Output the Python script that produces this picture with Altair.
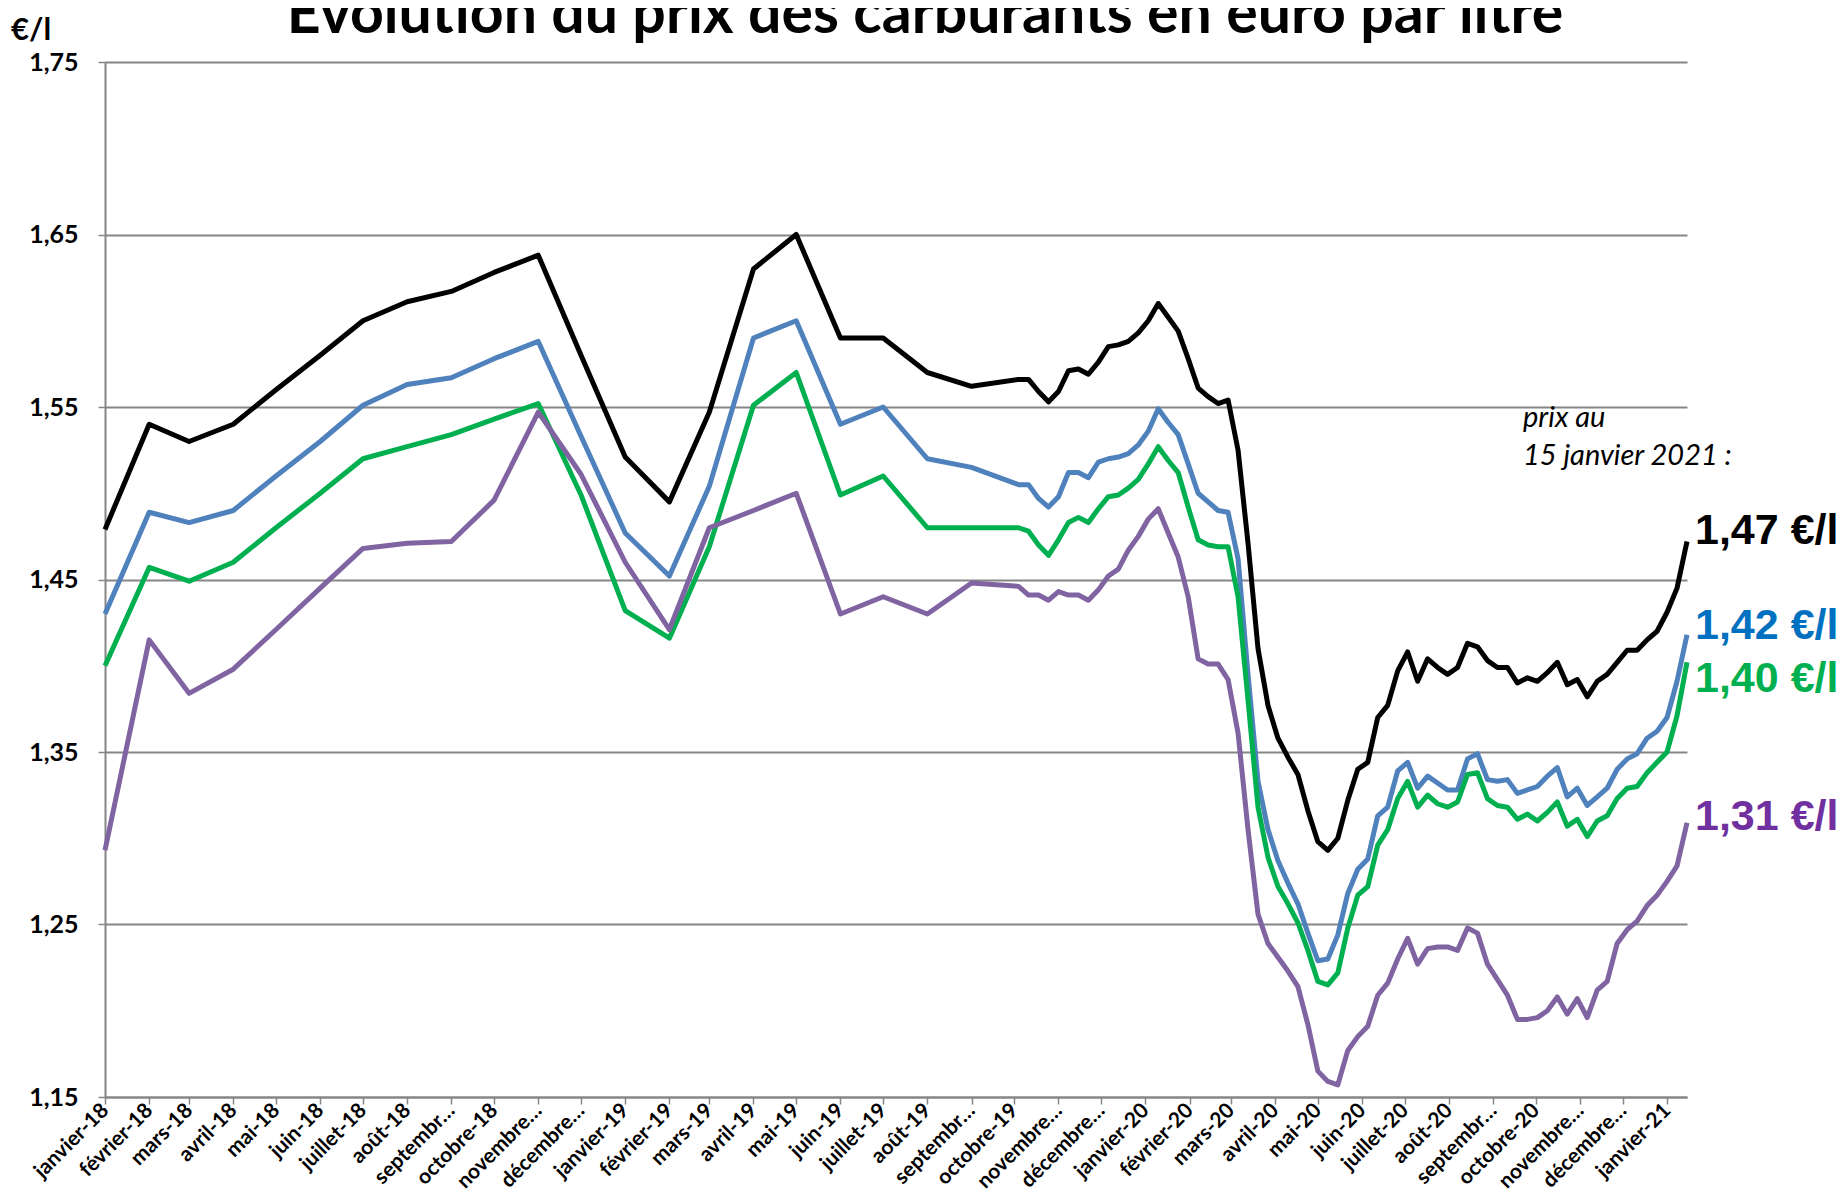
import json
import altair as alt
import pandas as pd

# ---------------- data ----------------
monthly_dates = pd.date_range("2018-01-01", "2019-09-01", freq="MS")
weekly_dates = pd.date_range("2019-10-04", "2021-01-15", freq="7D")
dates = [d.strftime("%Y-%m-%dT00:00:00") for d in list(monthly_dates) + list(weekly_dates)]

series_names = ["SP98", "SP95", "SP95-E10", "Gazole"]
line_colors = ["#000000", "#4F81BD", "#00B050", "#8064A2"]
label_colors = ["#000000", "#0070C0", "#00B050", "#7030A0"]

sp98 = [1.479, 1.540, 1.530, 1.540, 1.560, 1.580, 1.600, 1.611, 1.617, 1.628, 1.638, 1.580,
        1.521, 1.495, 1.547, 1.630, 1.650, 1.590, 1.590, 1.570, 1.562,
        1.566, 1.566, 1.559, 1.553, 1.559, 1.571, 1.572, 1.569, 1.576, 1.585,
        1.586, 1.588, 1.593, 1.600, 1.610, 1.602, 1.594, 1.578, 1.561, 1.556,
        1.552, 1.554, 1.525, 1.471, 1.410, 1.377, 1.358, 1.347, 1.337, 1.316,
        1.298, 1.293, 1.300, 1.322, 1.340, 1.344, 1.370, 1.377, 1.397, 1.408,
        1.391, 1.404, 1.399, 1.395, 1.399, 1.413, 1.411, 1.403, 1.399, 1.399,
        1.390, 1.393, 1.391, 1.396, 1.402, 1.389, 1.392, 1.382, 1.391, 1.395,
        1.402, 1.409, 1.409, 1.415, 1.420, 1.431, 1.445, 1.472]

sp95 = [1.430, 1.489, 1.483, 1.490, 1.510, 1.530, 1.551, 1.563, 1.567, 1.578, 1.588, 1.533,
        1.477, 1.452, 1.504, 1.590, 1.600, 1.540, 1.550, 1.520, 1.515,
        1.505, 1.505, 1.497, 1.492, 1.498, 1.512, 1.512, 1.509, 1.518, 1.520,
        1.521, 1.523, 1.528, 1.536, 1.549, 1.541, 1.534, 1.517, 1.500, 1.495,
        1.490, 1.489, 1.462, 1.395, 1.333, 1.305, 1.287, 1.274, 1.262, 1.245,
        1.229, 1.230, 1.244, 1.268, 1.282, 1.288, 1.313, 1.318, 1.339, 1.344,
        1.329, 1.336, 1.332, 1.328, 1.328, 1.346, 1.349, 1.334, 1.333, 1.334,
        1.326, 1.328, 1.330, 1.336, 1.341, 1.324, 1.329, 1.319, 1.324, 1.329,
        1.340, 1.346, 1.349, 1.358, 1.362, 1.370, 1.391, 1.418]

e10 = [1.400, 1.457, 1.449, 1.460, 1.480, 1.500, 1.520, 1.527, 1.534, 1.543, 1.552, 1.499,
       1.432, 1.416, 1.469, 1.551, 1.570, 1.499, 1.510, 1.480, 1.480,
       1.480, 1.478, 1.470, 1.464, 1.473, 1.483, 1.486, 1.483, 1.491, 1.498,
       1.499, 1.503, 1.508, 1.517, 1.527, 1.519, 1.512, 1.492, 1.473, 1.470,
       1.469, 1.469, 1.440, 1.380, 1.318, 1.289, 1.272, 1.262, 1.251, 1.235,
       1.217, 1.215, 1.222, 1.248, 1.267, 1.272, 1.296, 1.305, 1.323, 1.333,
       1.318, 1.325, 1.320, 1.318, 1.321, 1.337, 1.338, 1.323, 1.319, 1.318,
       1.311, 1.314, 1.310, 1.315, 1.321, 1.307, 1.311, 1.301, 1.310, 1.313,
       1.323, 1.329, 1.330, 1.338, 1.344, 1.350, 1.371, 1.402]

gazole = [1.293, 1.415, 1.384, 1.398, 1.421, 1.445, 1.468, 1.471, 1.472, 1.496, 1.547, 1.511,
          1.460, 1.421, 1.480, 1.490, 1.500, 1.430, 1.440, 1.430, 1.448,
          1.446, 1.441, 1.441, 1.438, 1.443, 1.441, 1.441, 1.438, 1.444, 1.452,
          1.456, 1.467, 1.475, 1.485, 1.491, 1.477, 1.463, 1.440, 1.404, 1.401,
          1.401, 1.392, 1.361, 1.305, 1.256, 1.239, 1.231, 1.223, 1.214, 1.192,
          1.165, 1.159, 1.157, 1.177, 1.185, 1.191, 1.209, 1.216, 1.230, 1.242,
          1.227, 1.236, 1.237, 1.237, 1.235, 1.248, 1.245, 1.227, 1.218, 1.209,
          1.195, 1.195, 1.196, 1.200, 1.208, 1.198, 1.207, 1.196, 1.212, 1.217,
          1.239, 1.247, 1.252, 1.261, 1.267, 1.275, 1.284, 1.309]

tick_labels = [
    "janvier-18", "février-18", "mars-18", "avril-18", "mai-18", "juin-18", "juillet-18",
    "août-18", "septembr…", "octobre-18", "novembre…", "décembre…",
    "janvier-19", "février-19", "mars-19", "avril-19", "mai-19", "juin-19", "juillet-19",
    "août-19", "septembr…", "octobre-19", "novembre…", "décembre…",
    "janvier-20", "février-20", "mars-20", "avril-20", "mai-20", "juin-20", "juillet-20",
    "août-20", "septembr…", "octobre-20", "novembre…", "décembre…",
    "janvier-21",
]
y_ticks = [1.15, 1.25, 1.35, 1.45, 1.55, 1.65, 1.75]

title_text = "Évolution du prix des carburants en euro par litre"
unit_text = "€/l"
note_lines = ["prix au", "15 janvier 2021 :"]

# ---------------- table ----------------
values_by_series = [sp98, sp95, e10, gazole]
rows = []
for name, vals in zip(series_names, values_by_series):
    for d, v in zip(dates, vals):
        rows.append({"date": d, "serie": name, "prix": v})
df = pd.DataFrame(rows)

W, H = 1582, 1035
GRID = "#868686"

tick_dates = [alt.DateTime(year=2018 + i // 12, month=i % 12 + 1, date=1) for i in range(len(tick_labels))]
label_expr = json.dumps(tick_labels, ensure_ascii=False) + "[(year(datum.value)-2018)*12 + month(datum.value)]"

x_enc = alt.X(
    "date:T",
    scale=alt.Scale(domain=[alt.DateTime(year=2018, month=1, date=1),
                            alt.DateTime(year=2021, month=1, date=15)]),
    axis=alt.Axis(
        values=tick_dates, labelExpr=label_expr, labelAngle=-45, labelAlign="right",
        labelBaseline="middle", labelOverlap=False, labelFlush=False, labelBound=False,
        labelFont="Lato", labelFontWeight="bold", labelFontSize=21, labelColor="#000000",
        labelPadding=3, tickSize=7, tickWidth=1.5, tickColor=GRID,
        domainColor=GRID, domainWidth=2, grid=False, title=None,
    ),
)
y_enc = alt.Y(
    "prix:Q",
    scale=alt.Scale(domain=[1.15, 1.75], zero=False, nice=False),
    axis=alt.Axis(
        values=y_ticks, labelExpr="replace(format(datum.value, '.2f'), '.', ',')",
        labelFont="Lato", labelFontWeight="bold", labelFontSize=25, labelColor="#000000",
        labelPadding=20, tickSize=7, tickWidth=1.5, tickColor=GRID,
        domainColor=GRID, domainWidth=2, grid=True, gridColor=GRID, gridWidth=2,
        title=None,
    ),
)

lines = alt.Chart(df).mark_line(strokeWidth=5, strokeJoin="round").encode(
    x=x_enc,
    y=y_enc,
    color=alt.Color("serie:N", scale=alt.Scale(domain=series_names, range=line_colors), legend=None),
    order=alt.Order("date:T"),
)

label_dy = [-11, -9, 17, -6]
label_layers = []
for name, col, dy in zip(series_names, label_colors, label_dy):
    label_layers.append(
        alt.Chart(df).transform_filter(alt.datum.serie == name)
        .transform_window(rk="rank()", sort=[alt.SortField("date", order="descending")])
        .transform_filter(alt.datum.rk == 1)
        .transform_calculate(lbl="replace(format(datum.prix, '.2f'), '.', ',') + ' €/l'")
        .mark_text(align="left", baseline="middle", dx=8, dy=dy, font="Liberation Sans",
                   fontWeight="bold", fontSize=43, color=col)
        .encode(x="date:T", y="prix:Q", text="lbl:N")
    )

title = alt.Chart(pd.DataFrame({"t": [title_text]})).mark_text(
    align="center", baseline="alphabetic", font="Lato", fontWeight="bold", fontSize=59, color="#000000"
).encode(x=alt.value(820), y=alt.value(-29), text="t:N")

unit = alt.Chart(pd.DataFrame({"t": [unit_text]})).mark_text(
    align="left", baseline="alphabetic", font="Lato", fontWeight="bold", fontSize=31, color="#000000"
).encode(x=alt.value(-94), y=alt.value(-22), text="t:N")

note = alt.Chart(pd.DataFrame({"t": [note_lines]})).mark_text(
    align="left", baseline="alphabetic", font="Lato", fontStyle="italic", fontSize=29,
    color="#000000", lineHeight=38
).encode(x=alt.value(1418), y=alt.value(365), text="t")

chart = alt.layer(lines, *label_layers, title, unit, note).properties(
    width=W, height=H,
    autosize=alt.AutoSizeParams(type="none"),
    padding={"left": 97, "top": 54, "right": 150, "bottom": 95},
).configure_view(stroke=None)

chart.save("out.html", embed_options={"renderer": "svg", "actions": False})
